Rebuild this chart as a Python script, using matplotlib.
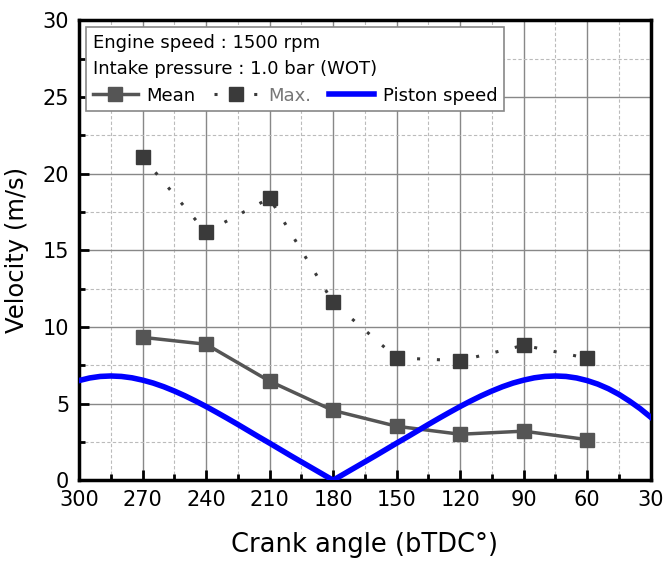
import matplotlib
matplotlib.use("Agg")
import matplotlib.pyplot as plt
from matplotlib.ticker import MultipleLocator

# measured velocities (m/s) vs crank angle (deg bTDC)
crank = [270, 240, 210, 180, 150, 120, 90, 60]
mean_vel = [9.32, 8.87, 6.46, 4.55, 3.52, 3.0, 3.2, 2.65]
max_vel = [21.07, 16.18, 18.4, 11.6, 7.98, 7.8, 8.8, 7.96]

# piston speed
piston_angle = [300, 295, 290, 285, 280, 275, 270, 265, 260, 255, 250, 245,
                240, 235, 230, 225, 220, 215, 210, 205, 200, 195, 190, 185,
                180, 175, 170, 165, 160, 155, 150, 145, 140, 135, 130, 125,
                120, 115, 110, 105, 100, 95, 90, 85, 80, 75, 70, 65, 60, 55,
                50, 45, 40, 35, 30]
piston_speed = [6.50, 6.67, 6.77, 6.80, 6.77, 6.68, 6.53, 6.34, 6.10, 5.82,
                5.51, 5.17, 4.81, 4.43, 4.04, 3.64, 3.23, 2.82, 2.42, 2.01,
                1.60, 1.20, 0.80, 0.40, 0.00, 0.40, 0.80, 1.20, 1.60, 2.01,
                2.42, 2.82, 3.23, 3.64, 4.04, 4.43, 4.81, 5.17, 5.51, 5.82,
                6.10, 6.34, 6.53, 6.68, 6.77, 6.80, 6.77, 6.67, 6.50, 6.27,
                5.97, 5.60, 5.16, 4.67, 4.11]

fig = plt.figure(figsize=(6.64, 5.63), dpi=100)
ax = fig.add_axes([0.119, 0.147, 0.861, 0.817])

ax.plot(crank, mean_vel, color="#555555", lw=2.5, marker="s", ms=9.5,
        label="Mean", zorder=3)
ax.plot(crank, max_vel, color="#3a3a3a", lw=2.2, ls=(0, (1, 5.5)), marker="s",
        ms=9.5, label="Max.", zorder=3)
ax.plot(piston_angle, piston_speed, color="#0000ff", lw=4, label="Piston speed",
        zorder=4)

ax.set_xlim(300, 30)
ax.set_ylim(0, 30)
ax.xaxis.set_major_locator(MultipleLocator(30))
ax.xaxis.set_minor_locator(MultipleLocator(15))
ax.yaxis.set_major_locator(MultipleLocator(5))
ax.yaxis.set_minor_locator(MultipleLocator(2.5))

ax.grid(which="major", color="#888888", lw=1.0, ls="-")
ax.grid(which="minor", color="#bbbbbb", lw=0.8, ls=(0, (3, 2)))
ax.set_axisbelow(True)

for sp in ax.spines.values():
    sp.set_linewidth(2.5)
ax.tick_params(which="both", direction="in", width=2, top=False, right=False)
ax.tick_params(which="major", length=7, labelsize=15, pad=7)
ax.tick_params(which="minor", length=4)

ax.set_xlabel("Crank angle (bTDC°)", fontsize=18.5, labelpad=16)
ax.set_ylabel("Velocity (m/s)", fontsize=17.5, labelpad=10)

leg = ax.legend(loc="upper left", ncol=3, fontsize=13, frameon=True,
                fancybox=False, edgecolor="#888888", framealpha=1,
                title="Engine speed : 1500 rpm\nIntake pressure : 1.0 bar (WOT)",
                title_fontsize=13, alignment="left", handlelength=2.5,
                columnspacing=1.0, handletextpad=0.5, borderpad=0.35,
                borderaxespad=0.4)
leg.get_title().set_linespacing(1.55)
leg.get_frame().set_linewidth(1.2)
leg.get_texts()[1].set_color("#777777")

fig.savefig("out.png", dpi=100)
